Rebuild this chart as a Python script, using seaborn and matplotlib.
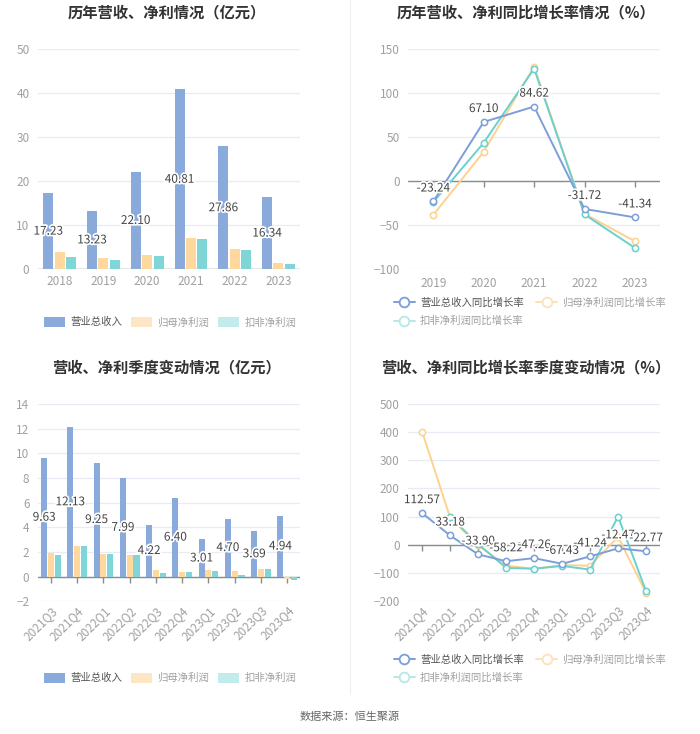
# ============================================================
# 营收 / 净利 年度与季度情况 (四图)
# ============================================================

import numpy as np
import pandas as pd
import matplotlib
matplotlib.use("Agg")
import matplotlib.pyplot as plt
from matplotlib.lines import Line2D
from matplotlib.patches import Patch
import matplotlib.patheffects as pe
import seaborn as sns

sns.set_theme(style="white")
plt.rcParams["font.family"] = ["Noto Sans CJK SC", "DejaVu Sans"]

# ------------------------------------------------------------
# 1. 数据
# ------------------------------------------------------------
anos = ["2018", "2019", "2020", "2021", "2022", "2023"]
receita_ano = [17.23, 13.23, 22.10, 40.81, 27.86, 16.34]
lucro_ano = [3.8, 2.4, 3.1, 7.0, 4.45, 1.4]
kf_ano = [2.8, 2.1, 3.0, 6.9, 4.3, 1.1]

anos_cresc = ["2019", "2020", "2021", "2022", "2023"]
receita_cresc = [-23.24, 67.10, 84.62, -31.72, -41.34]
lucro_cresc = [-38.5, 33.2, 130.0, -37.4, -68.4]
kf_cresc = [-24.0, 43.4, 127.8, -38.0, -76.0]

trimestres = ["2021Q3", "2021Q4", "2022Q1", "2022Q2", "2022Q3",
              "2022Q4", "2023Q1", "2023Q2", "2023Q3", "2023Q4"]
receita_tri = [9.63, 12.13, 9.25, 7.99, 4.22, 6.40, 3.01, 4.70, 3.69, 4.94]
lucro_tri = [1.90, 2.44, 1.79, 1.71, 0.49, 0.33, 0.52, 0.41, 0.62, -0.24]
kf_tri = [1.71, 2.47, 1.79, 1.74, 0.27, 0.38, 0.47, 0.16, 0.57, -0.27]

trimestres_cresc = ["2021Q4", "2022Q1", "2022Q2", "2022Q3", "2022Q4",
                    "2023Q1", "2023Q2", "2023Q3", "2023Q4"]
receita_tri_cresc = [112.57, 33.18, -33.90, -58.22, -47.26, -67.43, -41.24, -12.47, -22.77]
lucro_tri_cresc = [402.0, 97.0, -2.0, -74.0, -85.0, -72.0, -74.0, 28.0, -171.0]
kf_tri_cresc = [np.nan, 99.6, 3.0, -82.0, -85.0, -75.0, -88.0, 100.0, -165.0]

series_bar = ["营业总收入", "归母净利润", "扣非净利润"]
series_line = ["营业总收入同比增长率", "归母净利润同比增长率", "扣非净利润同比增长率"]

cores_bar = ["#8aaadb", "#fed89c", "#80d5d6"]
cores_line = ["#7c9fd9", "#fdd28e", "#6ad0d0"]
cores_leg = ["#8aaadb", "#fde6c4", "#c2ebeb"]
cores_leg_line = ["#7c9fd9", "#fde2b8", "#b5e8e8"]
cor_texto_leg = ["#555555", "#a0a0a0", "#a0a0a0"]

GRID = "#e6ebf5"
EIXO = "#8c8c8c"
TICK = "#a0a0a0"

fig = plt.figure(figsize=(7.0, 7.34), dpi=100)


def estilo(ax, ylim, yticks):
    ax.set_ylim(*ylim)
    ax.set_yticks(yticks)
    for s in ax.spines.values():
        s.set_visible(False)
    ax.grid(axis="y", color=GRID, linewidth=0.9)
    ax.grid(axis="x", visible=False)
    ax.set_axisbelow(True)
    ax.axhline(0, color=EIXO, linewidth=1.0, zorder=1)
    ax.tick_params(axis="both", length=0, colors=TICK, labelsize=8.5)
    ax.tick_params(axis="y", pad=6)
    ax.set_xlabel("")
    ax.set_ylabel("")


def barras(ax, cats, vals, ylim, yticks, rot=False, ticks_zero=False):
    df = pd.DataFrame({
        "periodo": cats * 3,
        "serie": np.repeat(series_bar, len(cats)),
        "valor": vals[0] + vals[1] + vals[2],
    })
    sns.barplot(data=df, x="periodo", y="valor", hue="serie", palette=cores_bar,
                saturation=1, width=0.78, gap=0.12, linewidth=0, legend=False,
                ax=ax, zorder=2)
    estilo(ax, ylim, yticks)
    ax.set_xlim(-0.5, len(cats) - 0.5)
    # rotulos no meio da barra de receita
    for p, v in zip(ax.containers[0].patches, vals[0]):
        ax.text(p.get_x() + p.get_width() / 2, v / 2, f"{v:.2f}", ha="center", va="center",
                fontsize=8.5, color="#444444", zorder=5,
                path_effects=[pe.withStroke(linewidth=2.5, foreground="white")])
    if ticks_zero:
        ax.plot(range(len(cats)), [0] * len(cats), linestyle="none", marker=3,
                markersize=4, color=EIXO, zorder=1)
    if rot:
        ax.tick_params(axis="x", pad=2)
        plt.setp(ax.get_xticklabels(), rotation=45, ha="right", rotation_mode="anchor")
    else:
        ax.tick_params(axis="x", pad=4)


def linhas(ax, cats, vals, ylim, yticks, rot=False):
    x = np.arange(len(cats))
    for i in [1, 2, 0]:
        sns.lineplot(x=x, y=vals[i], color=cores_line[i], linewidth=1.4, marker="o",
                     markersize=4.5, markerfacecolor="white", markeredgecolor=cores_line[i],
                     markeredgewidth=1.1, ax=ax, zorder=3 + (i == 0))
    estilo(ax, ylim, yticks)
    ax.set_xlim(-0.5, len(cats) - 0.5)
    ax.set_xticks(x)
    ax.set_xticklabels(cats)
    ax.plot(x, [0] * len(x), linestyle="none", marker=3, markersize=4, color=EIXO, zorder=1)
    for xi, v in zip(x, vals[0]):
        ax.annotate(f"{v:.2f}", (xi, v), xytext=(0, 5), textcoords="offset points",
                    ha="center", va="bottom", fontsize=8.5, color="#444444", zorder=6,
                    path_effects=[pe.withStroke(linewidth=2.5, foreground="white")])
    if rot:
        ax.tick_params(axis="x", pad=2)
        plt.setp(ax.get_xticklabels(), rotation=45, ha="right", rotation_mode="anchor")
    else:
        ax.tick_params(axis="x", pad=6)


def legenda_barras(y):
    handles = [Patch(facecolor=c, edgecolor="none") for c in cores_leg]
    leg = fig.legend(handles, series_bar, loc="center", bbox_to_anchor=(0.243, y), ncol=3,
                     frameon=False, fontsize=7.5, handlelength=2.0, handleheight=1.1,
                     handletextpad=0.5, columnspacing=0.9)
    for t, c in zip(leg.get_texts(), cor_texto_leg):
        t.set_color(c)


def legenda_linhas(y):
    handles = [Line2D([], [], color=c, linewidth=1.4, marker="o", markersize=7,
                      markerfacecolor="white", markeredgecolor=c, markeredgewidth=1.3)
               for c in cores_leg_line]
    ordem = [0, 2, 1]
    leg = fig.legend([handles[i] for i in ordem], [series_line[i] for i in ordem],
                     loc="center", bbox_to_anchor=(0.757, y), ncol=2, frameon=False,
                     fontsize=7.5, handlelength=2.0, handletextpad=0.5, columnspacing=1.2,
                     labelspacing=0.75)
    for t, i in zip(leg.get_texts(), ordem):
        t.set_color(cor_texto_leg[i])


TITULO = dict(ha="center", va="center", fontsize=11, fontweight="bold", color="#333333")

# ------------------------------------------------------------
# 2. 历年营收、净利情况
# ------------------------------------------------------------
ax1 = fig.add_axes([0.054, 0.6335, 0.375, 0.2997])
barras(ax1, anos, [receita_ano, lucro_ano, kf_ano], (0, 50), [0, 10, 20, 30, 40, 50])
fig.text(0.238, 0.983, "历年营收、净利情况（亿元）", **TITULO)
legenda_barras(0.561)

# ------------------------------------------------------------
# 3. 历年营收、净利同比增长率情况
# ------------------------------------------------------------
ax2 = fig.add_axes([0.583, 0.6335, 0.36, 0.2997])
linhas(ax2, anos_cresc, [receita_cresc, lucro_cresc, kf_cresc], (-100, 150),
       [-100, -50, 0, 50, 100, 150])
fig.text(0.751, 0.983, "历年营收、净利同比增长率情况（%）", **TITULO)
legenda_linhas(0.575)

# ------------------------------------------------------------
# 4. 营收、净利季度变动情况
# ------------------------------------------------------------
ax3 = fig.add_axes([0.054, 0.181, 0.375, 0.2686])
barras(ax3, trimestres, [receita_tri, lucro_tri, kf_tri], (-2, 14),
       [-2, 0, 2, 4, 6, 8, 10, 12, 14], rot=True, ticks_zero=True)
fig.text(0.238, 0.499, "营收、净利季度变动情况（亿元）", **TITULO)
legenda_barras(0.0763)

# ------------------------------------------------------------
# 5. 营收、净利同比增长率季度变动情况
# ------------------------------------------------------------
ax4 = fig.add_axes([0.583, 0.181, 0.36, 0.2686])
linhas(ax4, trimestres_cresc, [receita_tri_cresc, lucro_tri_cresc, kf_tri_cresc],
       (-200, 500), [-200, -100, 0, 100, 200, 300, 400, 500], rot=True)
fig.text(0.751, 0.499, "营收、净利同比增长率季度变动情况（%）", **TITULO)
legenda_linhas(0.0892)

# separador e fonte
fig.add_artist(Line2D([0.5, 0.5], [0.055, 1.0], color="#eeeeee", linewidth=0.8))
fig.text(0.5, 0.023, "数据来源：恒生聚源", ha="center", va="center", fontsize=8, color="#666666")

fig.savefig("out.png", dpi=100, facecolor="white")
